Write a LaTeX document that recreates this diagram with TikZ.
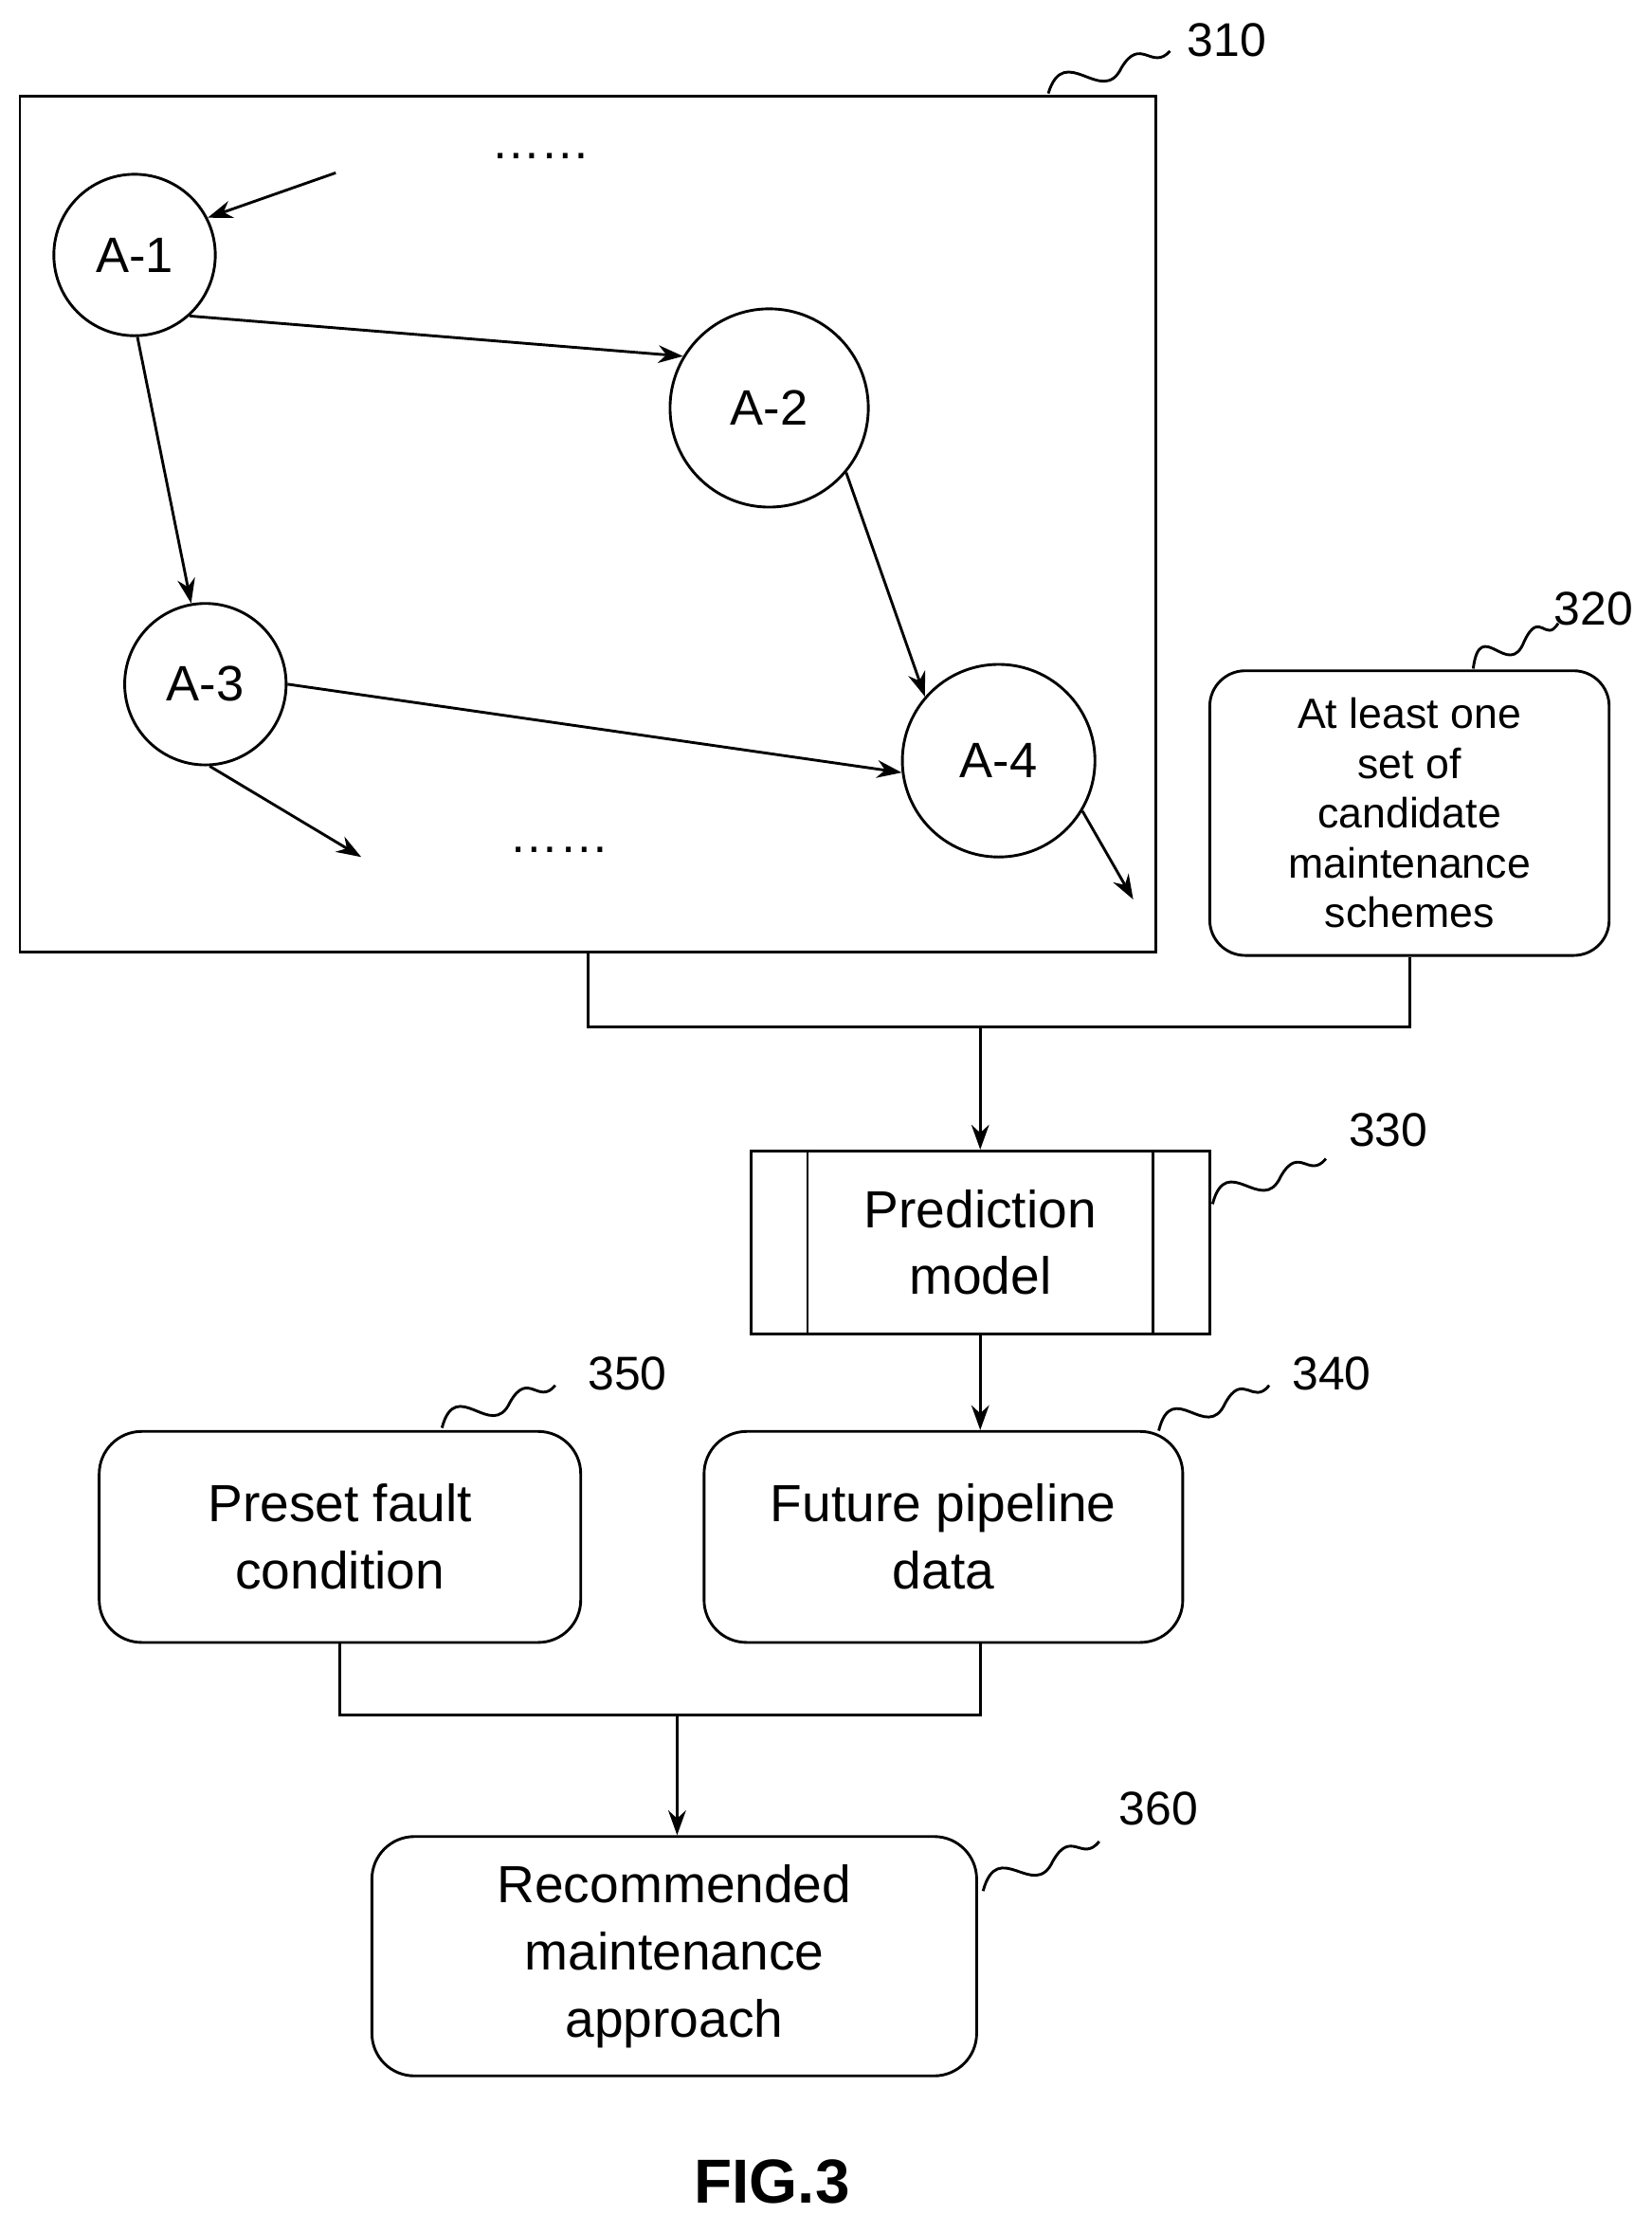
\documentclass[tikz,border=0pt]{standalone}
\usepackage{fontspec}
\setmainfont{Liberation Sans}
\usetikzlibrary{arrows.meta,positioning}
\tikzset{
  state/.style={circle,draw,line width=1.1pt,minimum size=#1,inner sep=0pt,font=\fontsize{20}{24}\selectfont},
  block/.style={draw,rounded corners=0.6cm,line width=1.1pt,align=center,font=\fontsize{21}{27}\selectfont},
  link/.style={line width=1.1pt,-{Stealth[length=0.35cm,width=0.25cm]}},
  wire/.style={line width=1.1pt},
  tag/.style={font=\fontsize{19}{23}\selectfont}
}
\newcommand{\squig}[2]{\draw[wire] (#1) .. controls ($(#1)!0.25!(#2)+(-10,-30)$) and ($(#1)!0.5!(#2)+(-5,25)$) .. ($(#1)!0.6!(#2)$) .. controls ($(#1)!0.7!(#2)+(5,-20)$) and ($(#1)!0.85!(#2)+(0,10)$) .. (#2);}
\usetikzlibrary{calc}
\begin{document}
\begin{tikzpicture}[x=0.02cm,y=-0.02cm]
  \useasboundingbox (0,0) rectangle (1166,1563);

  % -- big frame with the chain of states --
  \node[draw,line width=1.1pt,minimum width=16.04cm,minimum height=12.08cm] (frame) at (415,370) {};
  \node[state=2.28cm] (A1) at (95,180) {A-1};
  \node[state=2.8cm] (A2) at (543,288) {A-2};
  \node[state=2.28cm] (A3) at (145,483) {A-3};
  \node[state=2.72cm] (A4) at (705,537) {A-4};
  \node[font=\fontsize{20}{24}\selectfont] (dotsT) at (382,110) {……};
  \node[font=\fontsize{20}{24}\selectfont] (dotsB) at (395,600) {……};
  \coordinate (inA1) at (237,122);
  \coordinate (outA3) at (255,605);
  \coordinate (outA4) at (800,635);

  \draw[link] (inA1) -- (A1.27);
  \draw[link] (A1.-48) -- (A2.149);
  \draw[link] (A1.-88) -- (A3.100);
  \draw[link] (A2.-40) -- (A4.139);
  \draw[link] (A3.0) -- (A4.-173);
  \draw[link] (A3.-87) -- (outA3);
  \draw[link] (A4.-31) -- (outA4);

  % -- blocks --
  \node[block,rounded corners=0.5cm,minimum width=5.64cm,minimum height=4.02cm,font=\fontsize{17}{20}\selectfont] (cand) at (995,574) {At least one\\set of\\candidate\\maintenance\\schemes};
  \node[draw,line width=1.1pt,align=center,minimum width=6.48cm,minimum height=2.58cm,font=\fontsize{21}{27}\selectfont] (model) at (692,877) {Prediction\\model};
  \draw[wire] ([xshift=0.82cm]model.north west) -- ([xshift=0.82cm]model.south west);
  \draw[wire] ([xshift=-0.82cm]model.north east) -- ([xshift=-0.82cm]model.south east);
  \node[block,minimum width=6.76cm,minimum height=2.98cm] (future) at (666,1085) {Future pipeline\\data};
  \node[block,minimum width=6.8cm,minimum height=2.98cm] (fault) at (240,1085) {Preset fault\\condition};
  \node[block,minimum width=8.54cm,minimum height=3.38cm] (recom) at (476,1381) {Recommended\\maintenance\\approach};

  % -- connectors --
  \coordinate (joinA) at (692,725);
  \coordinate (joinB) at (478,1211);
  \draw[wire] (frame.south) |- (joinA);
  \draw[wire] (joinA) -| (cand.south);
  \draw[link] (joinA) -- (model.north);
  \draw[link] (model.south) -- (future.north -| model.south);
  \draw[wire] (fault.south) |- (joinB);
  \draw[wire] (joinB) -| (future.south -| model.south);
  \draw[link] (joinB) -- (recom.north -| joinB);

  % -- reference numerals --
  \node[tag] (t310) at (866,28) {310};
  \node[tag] (t320) at (1125,430) {320};
  \node[tag] (t330) at (980,798) {330};
  \node[tag] (t340) at (940,970) {340};
  \node[tag] (t350) at (443,970) {350};
  \node[tag] (t360) at (818,1277) {360};
  \coordinate (s310a) at (740,66); \coordinate (s310b) at (826,36);
  \coordinate (s320a) at (1040,472); \coordinate (s320b) at (1100,440);
  \coordinate (s330a) at (856,850); \coordinate (s330b) at (936,818);
  \coordinate (s340a) at (818,1010); \coordinate (s340b) at (896,978);
  \coordinate (s350a) at (312,1008); \coordinate (s350b) at (392,978);
  \coordinate (s360a) at (694,1335); \coordinate (s360b) at (776,1300);
  \squig{s310a}{s310b}
  \squig{s320a}{s320b}
  \squig{s330a}{s330b}
  \squig{s340a}{s340b}
  \squig{s350a}{s350b}
  \squig{s360a}{s360b}

  \node[font=\bfseries\fontsize{25}{30}\selectfont] (fig) at (545,1540) {FIG.3};
\end{tikzpicture}
\end{document}
